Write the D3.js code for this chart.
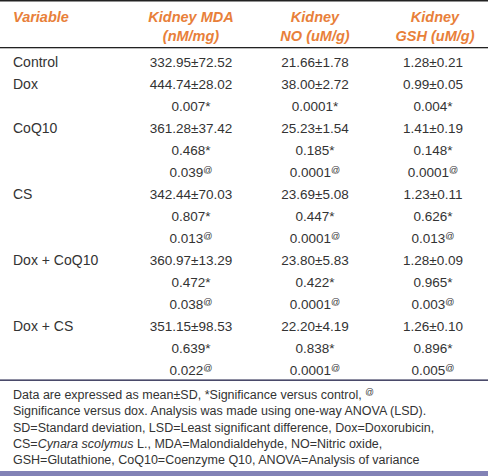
<!DOCTYPE html>
<html><head><meta charset="utf-8">
<script src="https://cdn.jsdelivr.net/npm/d3@7"></script>
<style>body{margin:0;background:#fff}svg{display:block}</style>
</head><body>
<script>
const groups = ["Control","Dox","CoQ10","CS","Dox + CoQ10","Dox + CS"];
const headers = [["Variable"],["Kidney MDA","(nM/mg)"],["Kidney","NO (uM/g)"],["Kidney","GSH (uM/g)"]];
const mdaMean = [332.95,444.74,361.28,342.44,360.97,351.15];
const mdaSD   = [72.52,28.02,37.42,70.03,13.29,98.53];
const noMean  = [21.66,38.00,25.23,23.69,23.80,22.20];
const noSD    = [1.78,2.72,1.54,5.08,5.83,4.19];
const gshMean = [1.28,0.99,1.41,1.23,1.28,1.26];
const gshSD   = [0.21,0.05,0.19,0.11,0.09,0.10];
const pCtrlMDA = [null,"0.007","0.468","0.807","0.472","0.639"];
const pCtrlNO  = [null,"0.0001","0.185","0.447","0.422","0.838"];
const pCtrlGSH = [null,"0.004","0.148","0.626","0.965","0.896"];
const pDoxMDA  = [null,null,"0.039","0.013","0.038","0.022"];
const pDoxNO   = [null,null,"0.0001","0.0001","0.0001","0.0001"];
const pDoxGSH  = [null,null,"0.0001","0.013","0.003","0.005"];
const footnote = [
 ["Data are expressed as mean±SD, *Significance versus control, ","@"],
 ["Significance versus dox. Analysis was made using one-way ANOVA (LSD)."],
 ["SD=Standard deviation, LSD=Least significant difference, Dox=Doxorubicin,"],
 ["CS=","Cynara scolymus"," L., MDA=Malondialdehyde, NO=Nitric oxide,"],
 ["GSH=Glutathione, CoQ10=Coenzyme Q10, ANOVA=Analysis of variance"]
];

const W = 488, H = 476;
const svg = d3.select("body").append("svg").attr("width",W).attr("height",H)
  .style("font-family","'Liberation Sans', Arial, sans-serif");

const rows = [];
const cols = [[mdaMean,mdaSD,pCtrlMDA,pDoxMDA],[noMean,noSD,pCtrlNO,pDoxNO],[gshMean,gshSD,pCtrlGSH,pDoxGSH]];
groups.forEach((g,i)=>{
  rows.push({label:g, cells: cols.map(c=>({t:c[0][i].toFixed(2)+"±"+c[1][i].toFixed(2), sup:null}))});
  if (cols[0][2][i]!==null) rows.push({label:"", cells: cols.map(c=>({t:c[2][i], sup:"*"}))});
  if (cols[0][3][i]!==null) rows.push({label:"", cells: cols.map(c=>({t:c[3][i], sup:"@"}))});
});

const y = d3.scaleLinear().domain([0, rows.length-1]).range([62, 370]);
const colX = d3.scaleOrdinal().domain([0,1,2]).range([191, 315, 433]);
const headX = [13, 191, 315, 435];
const textColor = "#333333";

svg.append("rect").attr("x",0).attr("y",0).attr("width",W).attr("height",1.5).attr("fill","#222");
svg.append("rect").attr("x",0).attr("y",47).attr("width",W).attr("height",1.3).attr("fill","#222");
svg.append("rect").attr("x",0).attr("y",379.5).attr("width",W).attr("height",1.3).attr("fill","#1e1e46");
svg.append("rect").attr("x",0).attr("y",471).attr("width",W).attr("height",5).attr("fill","#8282b6");

headers.forEach((h,j)=>{
  h.forEach((line,k)=>{
    svg.append("text").attr("x",headX[j]).attr("y",22+k*19)
      .attr("text-anchor", j===0?"start":"middle")
      .attr("font-size","14.5px").attr("font-weight","bold").attr("font-style","italic")
      .attr("fill","#e8803a").text(line);
  });
});

const g = svg.append("g").attr("fill",textColor).attr("font-size","13.5px");
rows.forEach((r,i)=>{
  const yy = y(i)+5;
  if (r.label) g.append("text").attr("x",13).attr("y",yy).attr("font-size","14px").text(r.label);
  r.cells.forEach((c,j)=>{
    const t = g.append("text").attr("x",colX(j)).attr("y",yy).attr("text-anchor","middle");
    t.append("tspan").text(c.t);
    if (c.sup==="*") t.append("tspan").text("*");
    else if (c.sup==="@") t.append("tspan").attr("font-size","9px").attr("dy",-4).text("@");
  });
});

const fy = d3.scaleLinear().domain([0,footnote.length-1]).range([399, 464]);
footnote.forEach((parts,i)=>{
  const t = svg.append("text").attr("x",13).attr("y",fy(i)).attr("font-size","12.5px").attr("fill",textColor);
  parts.forEach((p,k)=>{
    const ts = t.append("tspan").text(p);
    if (i===3 && k===1) ts.attr("font-style","italic");
    if (i===0 && k===1) ts.attr("font-size","8.5px").attr("dy",-4);
  });
});
</script>
</body></html>
